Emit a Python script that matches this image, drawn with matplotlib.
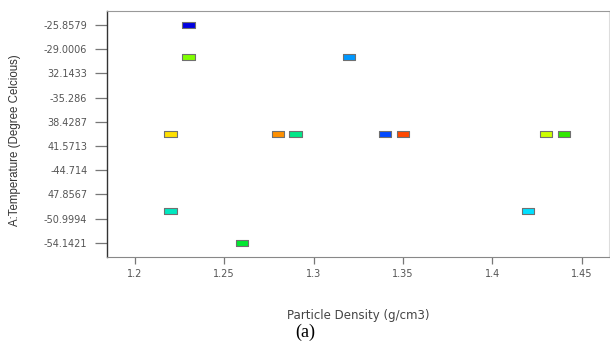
import matplotlib
matplotlib.use("Agg")
import matplotlib.pyplot as plt

# design points (particle density vs temperature)
density = [1.23, 1.23, 1.32, 1.22, 1.28, 1.29, 1.34, 1.35, 1.43, 1.44, 1.22, 1.42, 1.26]
temperature = [-25.8579, -30.0, -30.0, -40.0, -40.0, -40.0, -40.0, -40.0, -40.0, -40.0,
               -50.0, -50.0, -54.1421]
colors = ["#0000e0", "#80ff00", "#0098ff", "#ffe000", "#ff9000", "#00e888", "#0048ff",
          "#ff4800", "#ccff00", "#30e800", "#00e8c0", "#00e0ff", "#00e830"]

ytick_vals = [-25.8579, -29.0006, -32.1433, -35.286, -38.4287, -41.5713,
              -44.714, -47.8567, -50.9994, -54.1421]
ytick_labels = ["-25.8579", "-29.0006", "32.1433", "-35.286", "38.4287", "41.5713",
                "-44.714", "47.8567", "-50.9994", "-54.1421"]
xtick_vals = [1.2, 1.25, 1.3, 1.35, 1.4, 1.45]
xtick_labels = ["1.2", "1.25", "1.3", "1.35", "1.4", "1.45"]

fig = plt.figure(figsize=(6.1, 3.43), dpi=100)
ax = fig.add_axes([0.175, 0.251, 0.823, 0.717])

rect = [(-1, -0.5), (1, -0.5), (1, 0.5), (-1, 0.5), (-1, -0.5)]
ax.scatter(density, temperature, marker=rect, s=80, c=colors,
           edgecolors="#707070", linewidths=0.8, zorder=3)

ax.set_xlim(1.1843, 1.4652)
ax.set_ylim(-55.96, -24.04)
ax.set_xticks(xtick_vals)
ax.set_xticklabels(xtick_labels)
ax.set_yticks(ytick_vals)
ax.set_yticklabels(ytick_labels)

ax.tick_params(axis="y", length=9, width=0.9, color="#777777", labelsize=7,
               labelcolor="#555555", pad=5)
ax.tick_params(axis="x", length=5, width=0.9, color="#777777", labelsize=7,
               labelcolor="#555555", pad=4)
for lbl in ax.get_xticklabels() + ax.get_yticklabels():
    lbl.set_family("DejaVu Sans")

ax.spines["left"].set_color("#333333")
ax.spines["left"].set_linewidth(1.0)
ax.spines["bottom"].set_color("#888888")
ax.spines["top"].set_color("#999999")
ax.spines["right"].set_color("#dddddd")

ax.set_xlabel("Particle Density (g/cm3)", fontsize=8.5, color="#444444",
              family="DejaVu Sans", labelpad=21)
fig.text(0.024, 0.59, "A:Temperature (Degree Celcious)", rotation=90,
         ha="center", va="center", fontsize=8.3, color="#333333",
         family=["Liberation Sans", "DejaVu Sans"])
fig.text(0.5, 0.032, "(a)", ha="center", va="center", fontsize=13,
         family=["Liberation Serif", "DejaVu Serif"], color="black")

fig.savefig("out.png", dpi=100)
